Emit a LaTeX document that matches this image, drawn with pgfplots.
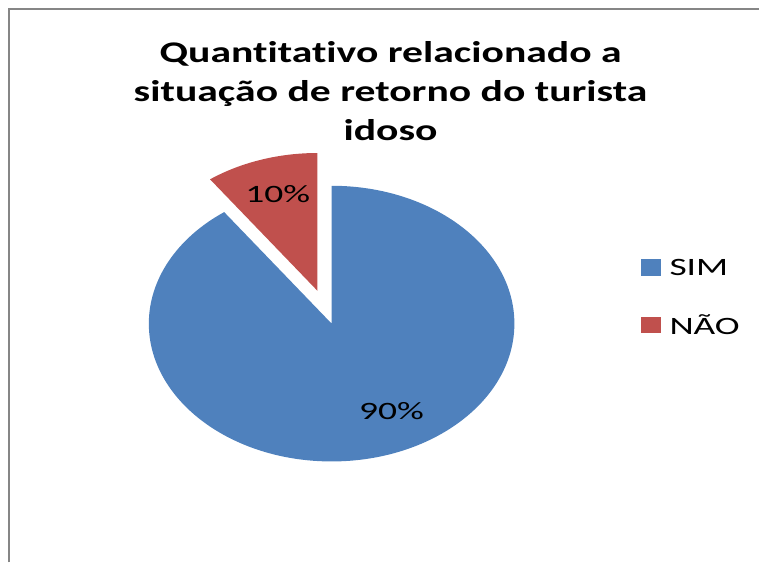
\documentclass[border=0pt]{standalone}
\usepackage{pgfplots}
\pgfplotsset{compat=1.18}
\usepackage{pgfplotstable}
\usepackage{fontspec}
\setmainfont[Ligatures=NoCommon]{Carlito}
\definecolor{simblue}{HTML}{4F81BD}
\definecolor{naored}{HTML}{C0504D}
\definecolor{framegray}{HTML}{868686}

% share of each answer, in percent
\pgfplotstableread{
value
90
10
}\piedata

\begin{document}
\begin{tikzpicture}
\pgfplotstablegetelem{0}{value}\of\piedata \let\vsim\pgfplotsretval
\pgfplotstablegetelem{1}{value}\of\piedata \let\vnao\pgfplotsretval
\pgfmathsetmacro\aend{90-3.6*\vsim}        % SIM: 90 clockwise
\pgfmathsetmacro\bend{\aend-3.6*\vnao}      % NAO follows
\pgfmathsetmacro\bmid{(\aend+\bend)/2}
\begin{axis}[
    width=760pt, height=563pt, scale only axis,
    xmin=0, xmax=760, ymin=0, ymax=563,
    axis lines=none, ticks=none, clip=false,
]
\addplot[draw=none] coordinates {(0,0) (760,563)};

% chart frame
\draw[framegray, line width=1.8pt] (axis cs:9,0) -- (axis cs:9,554) -- (axis cs:760,554);

% title
\node[align=center, font=\fontsize{30}{39}\selectfont\bfseries, xscale=1.39]
  at (axis cs:391,472) {Quantitativo relacionado a\\situação de retorno do turista\\idoso};

% SIM slice
\fill[simblue] (axis cs:332,239) -- ++(90:183pt and 138pt)
  arc[start angle=90, end angle=\aend, x radius=183pt, y radius=138pt] -- cycle;
% NAO slice, pulled out
\fill[naored] (axis cs:332,239) ++(\bmid:45.75pt and 34.5pt) coordinate (nc)
  -- ++(\aend:183pt and 138pt)
  arc[start angle=\aend, end angle=\bend, x radius=183pt, y radius=138pt] -- cycle;

\tikzset{lbl/.style={font=\fontsize{25}{29}\selectfont, xscale=1.5}}
\node[lbl] at (axis cs:278,369) {10\%};
\node[lbl] at (axis cs:392,151) {90\%};

% legend
\fill[simblue] (axis cs:642,287) rectangle (axis cs:662,304);
\node[lbl, anchor=west] at (axis cs:665,295) {SIM};
\fill[naored] (axis cs:642,230) rectangle (axis cs:662,246);
\node[lbl, anchor=west] at (axis cs:665,238) {NÃO};
\end{axis}
\end{tikzpicture}
\end{document}
